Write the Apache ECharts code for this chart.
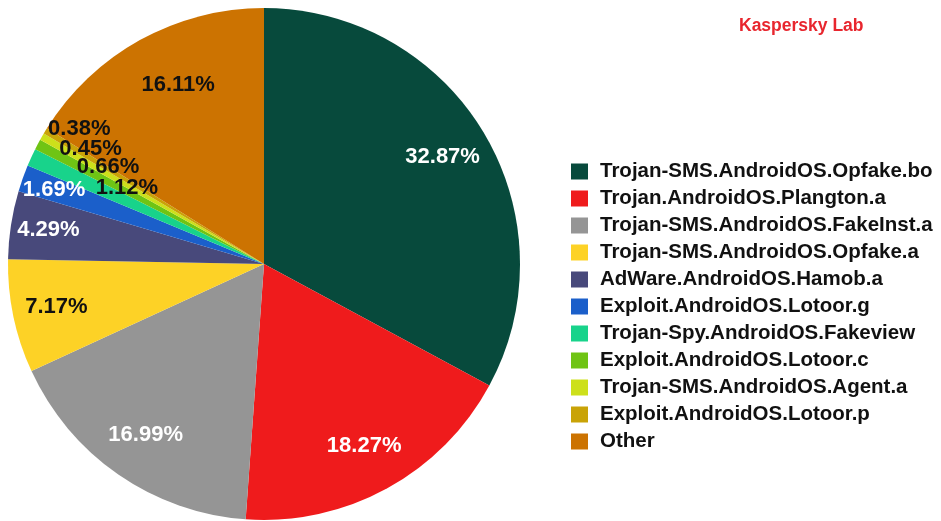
<!DOCTYPE html>
<html>
<head>
<meta charset="utf-8">
<script src="https://cdn.jsdelivr.net/npm/echarts@6/dist/echarts.min.js"></script>
<style>
  html, body { margin: 0; padding: 0; background: #fff; }
  #chart { width: 941px; height: 521px; }
</style>
</head>
<body>
<div id="chart"></div>
<script>
  // data (percent of detections)
  const names = [
    'Trojan-SMS.AndroidOS.Opfake.bo',
    'Trojan.AndroidOS.Plangton.a',
    'Trojan-SMS.AndroidOS.FakeInst.a',
    'Trojan-SMS.AndroidOS.Opfake.a',
    'AdWare.AndroidOS.Hamob.a',
    'Exploit.AndroidOS.Lotoor.g',
    'Trojan-Spy.AndroidOS.Fakeview',
    'Exploit.AndroidOS.Lotoor.c',
    'Trojan-SMS.AndroidOS.Agent.a',
    'Exploit.AndroidOS.Lotoor.p',
    'Other'
  ];
  const values = [32.87, 18.27, 16.99, 7.17, 4.29, 1.69, 1.12, 0.66, 0.45, 0.38, 16.11];

  const colors = ['#074a3c', '#ef1b1c', '#959595', '#fdd226', '#48497b', '#1b5fca',
                  '#18d38b', '#6fc414', '#cde01b', '#c9a307', '#cc7301'];
  const labelColors = ['#fff', '#fff', '#fff', '#111', '#fff', '#fff',
                       '#111', '#111', '#111', '#111', '#111'];
  // nudges for the crowded small slices
  const labelOffsets = [[0, 0], [0, 0], [0, 0], [-4, 0], [-10, -2], [-14, -4],
                        [52, 11], [28, 0], [7, -12], [-7, -27], [15, 3]];

  let myChart = echarts.init(document.getElementById('chart'));

  const font = '"Liberation Sans", Arial, sans-serif';

  myChart.setOption({
    animation: false,
    color: colors,
    title: {
      text: 'Kaspersky Lab',
      left: 734,
      top: 12,
      textStyle: { color: '#e8262e', fontSize: 17.5, fontWeight: 'bold', fontFamily: font }
    },
    legend: {
      orient: 'vertical',
      left: 566,
      top: 156,
      itemWidth: 17,
      itemHeight: 16,
      itemGap: 6,
      icon: 'rect',
      data: names,
      textStyle: {
        color: '#111',
        fontSize: 20.5,
        fontWeight: 'bold',
        fontFamily: font,
        lineHeight: 20,
        padding: [0, 0, 0, 7]
      }
    },
    series: [
      {
        name: 'main',
        type: 'pie',
        center: [264, 264],
        radius: 256,
        startAngle: 90,
        clockwise: true,
        label: { show: false },
        labelLine: { show: false },
        emphasis: { disabled: true },
        data: names.map((n, i) => ({ name: n, value: values[i] }))
      },
      {
        // transparent ring used only to place the labels at ~80% of the radius
        name: 'labels',
        type: 'pie',
        center: [264, 264],
        radius: [154, 256],
        startAngle: 90,
        clockwise: true,
        silent: true,
        avoidLabelOverlap: false,
        labelLayout: { hideOverlap: false },
        itemStyle: { color: 'rgba(0,0,0,0)' },
        labelLine: { show: false },
        emphasis: { disabled: true },
        data: names.map((n, i) => ({
          name: n,
          value: values[i],
          label: {
            show: true,
            position: 'inside',
            formatter: values[i].toFixed(2) + '%',
            color: labelColors[i],
            offset: labelOffsets[i],
            fontSize: 22,
            fontWeight: 'bold',
            fontFamily: font
          }
        }))
      }
    ]
  });
</script>
</body>
</html>
